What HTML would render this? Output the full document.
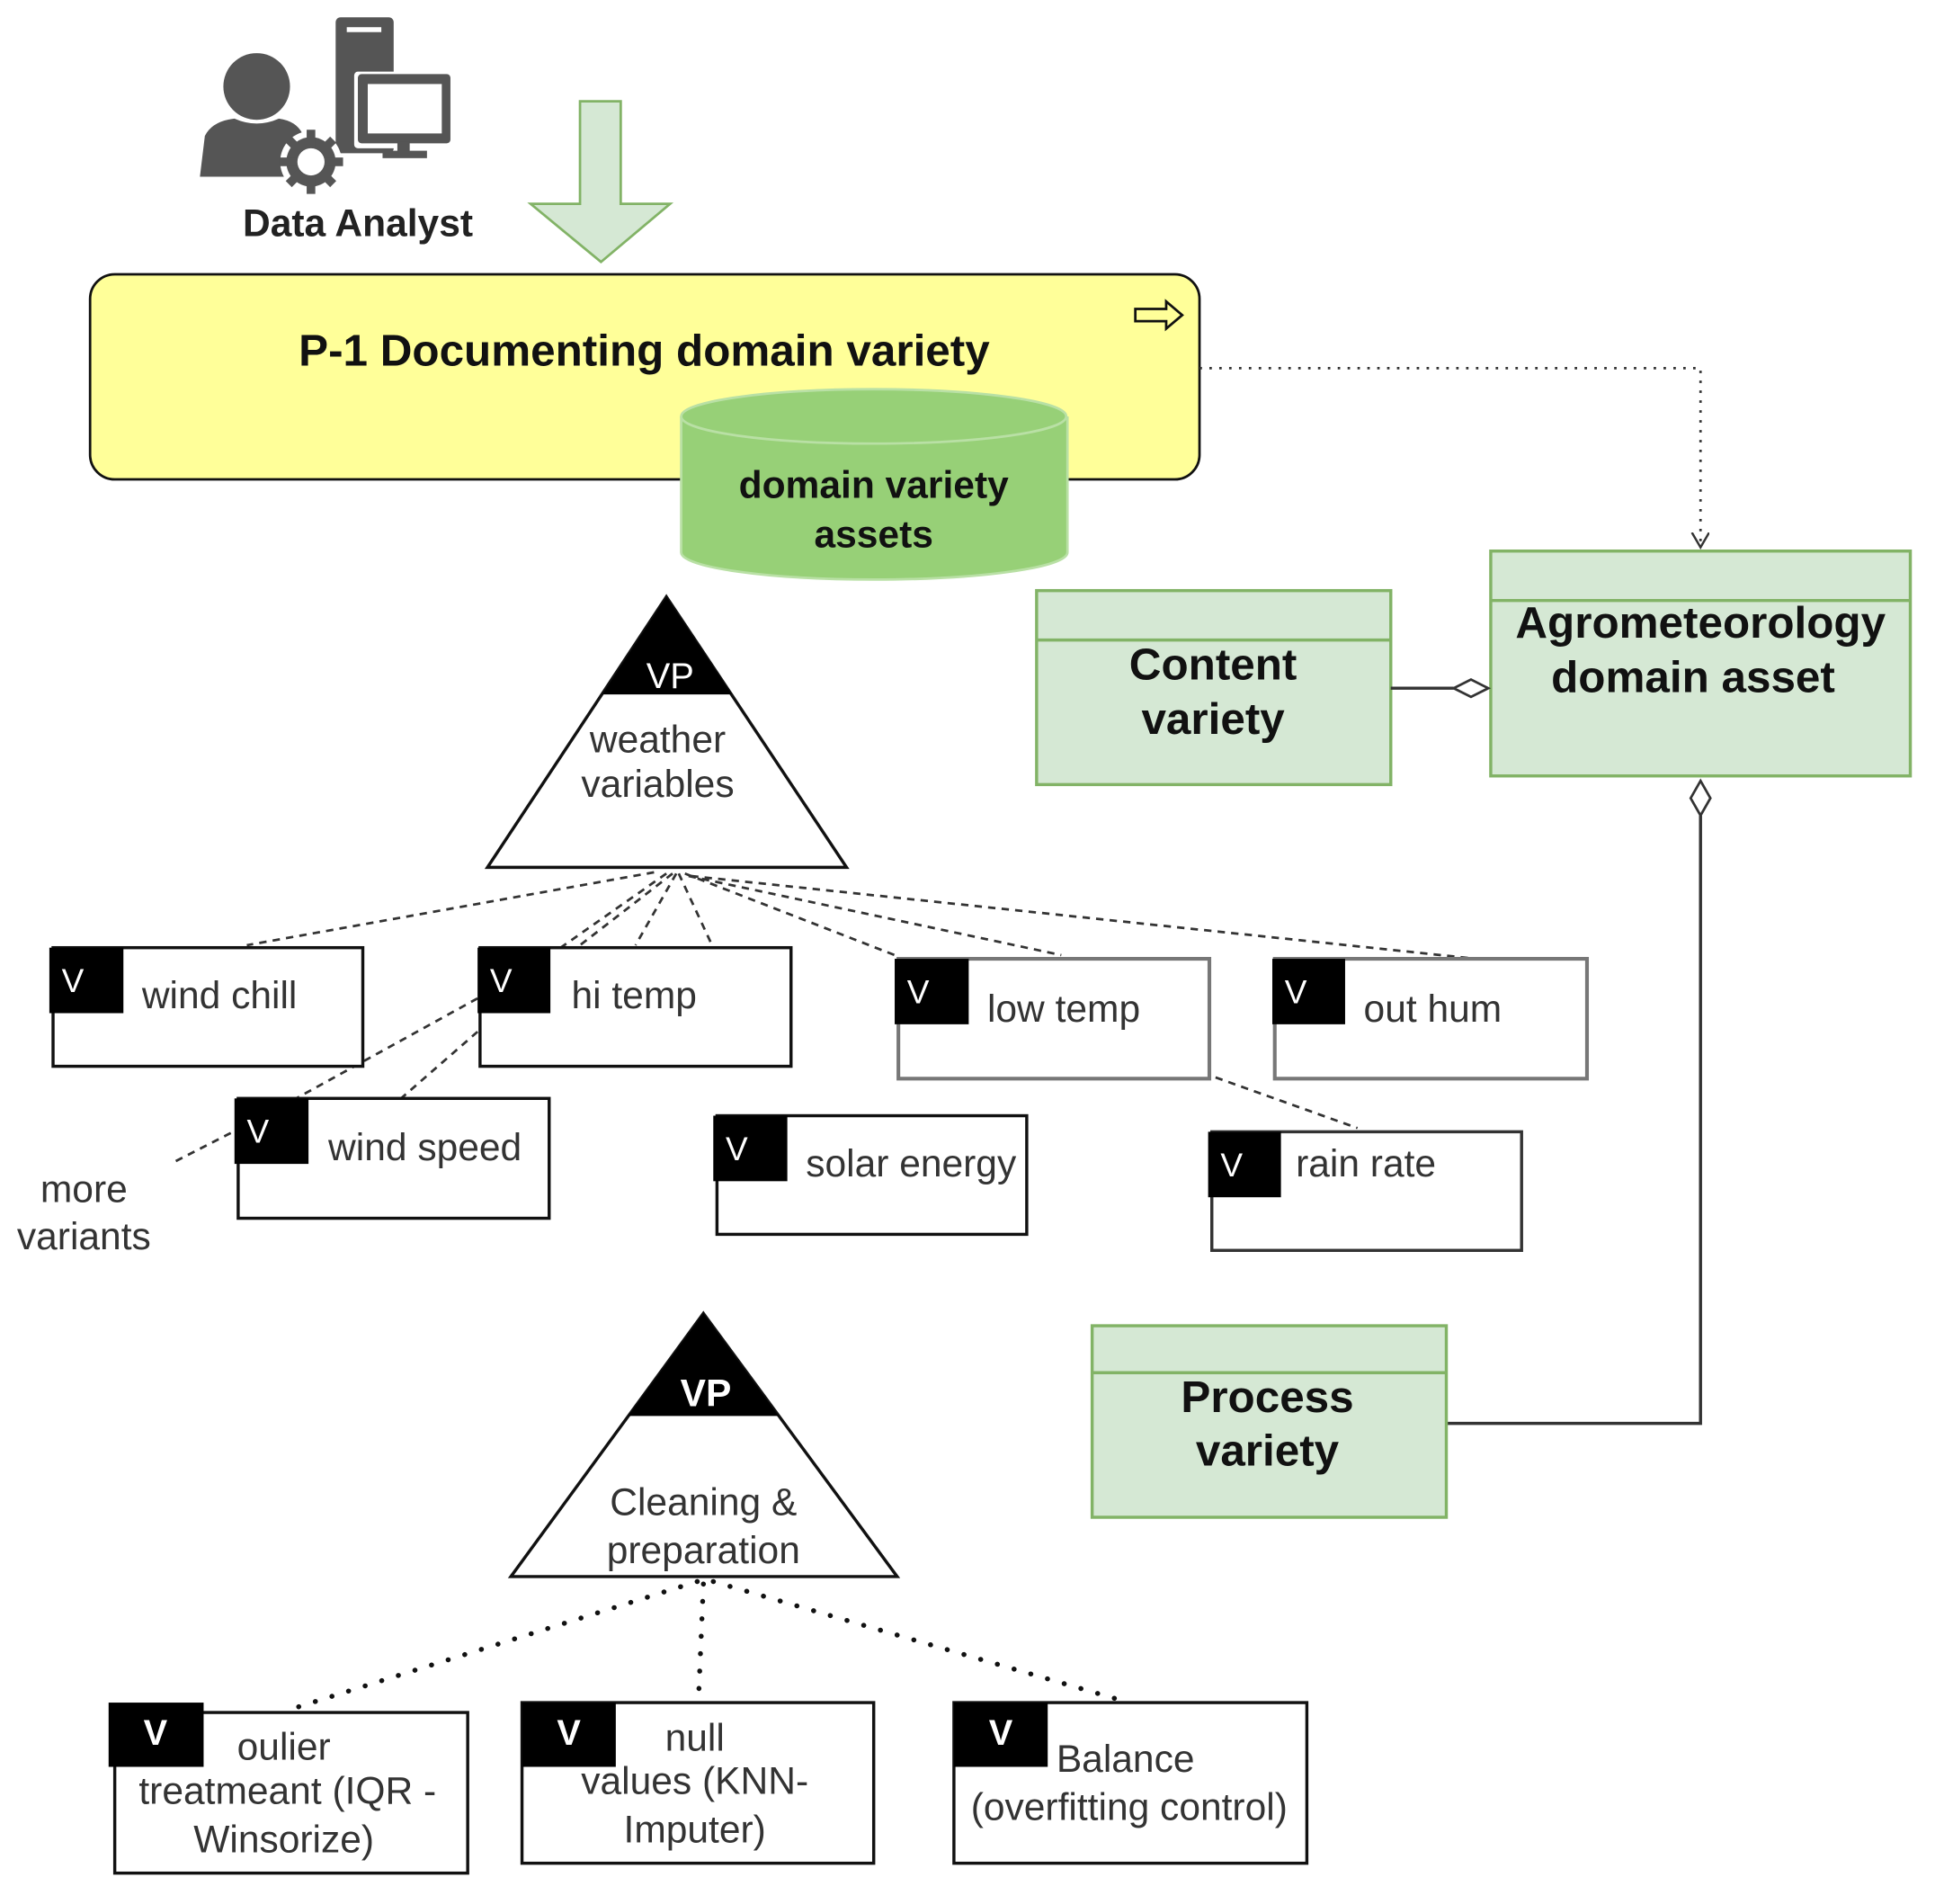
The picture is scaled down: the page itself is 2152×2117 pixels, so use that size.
<!DOCTYPE html>
<html><head><meta charset="utf-8"><style>
html,body{margin:0;padding:0;background:#fff;}
svg{display:block;}
text{font-family:"Liberation Sans",sans-serif;}
</style></head><body>
<svg width="2152" height="2117" viewBox="0 0 1568 1541" preserveAspectRatio="none" xmlns="http://www.w3.org/2000/svg">
<defs>
<marker id="openv" markerWidth="14" markerHeight="16" refX="12" refY="7" orient="auto" markerUnits="userSpaceOnUse">
<path d="M0,0 L12,7 L0,14" fill="none" stroke="#333" stroke-width="1.8"/>
</marker>
</defs>
<!-- icon -->
<g fill="#555">
<circle cx="208" cy="70" r="27"/>
<path d="M162,143 L166,110 Q172,98 190,96 Q208,104 226,96 Q240,98 245,108 L245,143 Z"/>
<rect x="272" y="14" width="47" height="110" rx="4"/>
<rect x="281" y="22" width="28" height="4" fill="#fff"/>
<rect x="287" y="58" width="80" height="62" rx="3" fill="#fff"/>
<rect x="290" y="60" width="75" height="56" rx="3"/>
<rect x="298" y="68" width="60" height="40" fill="#fff"/>
<rect x="322" y="115" width="10" height="10"/>
<rect x="310" y="122" width="36" height="6"/>
<circle cx="252" cy="131" r="25" fill="#fff"/>
<circle cx="252" cy="131" r="20"/>
<g stroke="#555" stroke-width="7">
<line x1="252" y1="105" x2="252" y2="157"/><line x1="226" y1="131" x2="278" y2="131"/>
<line x1="234" y1="113" x2="270" y2="149"/><line x1="270" y1="113" x2="234" y2="149"/>
</g>
<circle cx="252" cy="131" r="11" fill="#fff"/>
</g>
<text x="290" y="191" font-size="31" font-weight="bold" text-anchor="middle" fill="#222">Data Analyst</text>
<!-- green arrow -->
<path d="M470,82 L503,82 L503,165 L543,165 L487,212 L430,165 L470,165 Z" fill="#d5e8d4" stroke="#82b366" stroke-width="2"/>
<!-- yellow process -->
<rect x="73" y="222" width="899" height="166" rx="20" fill="#ffff99" stroke="#111" stroke-width="2"/>
<text x="522" y="296" font-size="36" font-weight="bold" text-anchor="middle" fill="#111">P-1 Documenting domain variety</text>
<path d="M920,250 L945,250 L945,244 L958,255 L945,266 L945,260 L920,260 Z" fill="none" stroke="#111" stroke-width="2"/>
<!-- cylinder -->
<path d="M552,337 L552,447 A156,22 0 0 0 865,447 L865,337" fill="#97d077" stroke="#b9e0a5" stroke-width="2"/>
<ellipse cx="708" cy="337" rx="156" ry="22" fill="#97d077" stroke="#b9e0a5" stroke-width="2"/>
<text x="708" y="403" font-size="31" font-weight="bold" text-anchor="middle" fill="#111">domain variety</text>
<text x="708" y="443" font-size="31" font-weight="bold" text-anchor="middle" fill="#111">assets</text>
<!-- dotted connector -->
<path d="M972,298 L1378,298 L1378,443" fill="none" stroke="#333" stroke-width="2" stroke-dasharray="2,6" marker-end="url(#openv)"/>
<!-- green boxes -->
<rect x="1208" y="446" width="340" height="182" fill="#d5e8d4" stroke="#82b366" stroke-width="2.5"/>
<line x1="1208" y1="486" x2="1548" y2="486" stroke="#82b366" stroke-width="2.5"/>
<text x="1378" y="516" font-size="36" font-weight="bold" text-anchor="middle" fill="#111">Agrometeorology</text>
<text x="1372" y="560" font-size="36" font-weight="bold" text-anchor="middle" fill="#111">domain asset</text>
<rect x="840" y="478" width="287" height="157" fill="#d5e8d4" stroke="#82b366" stroke-width="2.5"/>
<line x1="840" y1="518" x2="1127" y2="518" stroke="#82b366" stroke-width="2.5"/>
<text x="983" y="550" font-size="36" font-weight="bold" text-anchor="middle" fill="#111">Content</text>
<text x="983" y="594" font-size="36" font-weight="bold" text-anchor="middle" fill="#111">variety</text>
<line x1="1127" y1="557" x2="1178" y2="557" stroke="#333" stroke-width="2.5"/>
<path d="M1178,557 L1192,550 L1206,557 L1192,564 Z" fill="#fff" stroke="#333" stroke-width="2"/>
<path d="M1378,632 L1386,646 L1378,660 L1370,646 Z" fill="#fff" stroke="#333" stroke-width="2"/>
<path d="M1378,660 L1378,1152 L1172,1152" fill="none" stroke="#333" stroke-width="2.5"/>
<rect x="885" y="1073" width="287" height="155" fill="#d5e8d4" stroke="#82b366" stroke-width="2.5"/>
<line x1="885" y1="1111" x2="1172" y2="1111" stroke="#82b366" stroke-width="2.5"/>
<text x="1027" y="1143" font-size="36" font-weight="bold" text-anchor="middle" fill="#111">Process</text>
<text x="1027" y="1186" font-size="36" font-weight="bold" text-anchor="middle" fill="#111">variety</text>
<!-- triangle 1 -->
<path d="M540,483 L686,702 L395,702 Z" fill="#fff" stroke="#111" stroke-width="2.5"/>
<path d="M540,483 L593,562 L488,562 Z" fill="#000"/>
<text x="543" y="557" font-size="29" text-anchor="middle" fill="#fff">VP</text>
<text x="533" y="609" font-size="31" text-anchor="middle" fill="#333">weather</text>
<text x="533" y="645" font-size="31" text-anchor="middle" fill="#333">variables</text>
<!-- dashed lines -->
<g stroke="#333" stroke-width="2" stroke-dasharray="6,5" fill="none">
<line x1="530" y1="706" x2="200" y2="765"/>
<line x1="540" y1="707" x2="450" y2="770"/>
<line x1="545" y1="707" x2="470" y2="765"/>
<line x1="548" y1="707" x2="515" y2="765"/>
<line x1="550" y1="707" x2="577" y2="765"/>
<line x1="555" y1="707" x2="725" y2="773"/>
<line x1="558" y1="709" x2="860" y2="773"/>
<line x1="560" y1="709" x2="1215" y2="778"/>
<line x1="387" y1="808" x2="240" y2="889"/>
<line x1="187" y1="917" x2="142" y2="940"/>
<line x1="387" y1="835" x2="325" y2="889"/>
<line x1="985" y1="872" x2="1100" y2="913"/>
</g>
<!-- V boxes -->
<g font-size="31" fill="#333">
<rect x="43" y="767" width="251" height="96" fill="#fff" stroke="#111" stroke-width="2.5"/>
<rect x="40" y="767" width="60" height="53" fill="#000"/>
<text x="50" y="803" fill="#fff" font-size="27">V</text>
<text x="115" y="816">wind chill</text>
<rect x="389" y="767" width="252" height="96" fill="#fff" stroke="#111" stroke-width="2.5"/>
<rect x="387" y="767" width="59" height="53" fill="#000"/>
<text x="397" y="803" fill="#fff" font-size="27">V</text>
<text x="463" y="816">hi temp</text>
<rect x="728" y="776" width="252" height="97" fill="#fff" stroke="#777" stroke-width="3"/>
<rect x="725" y="776" width="60" height="53" fill="#000"/>
<text x="735" y="812" fill="#fff" font-size="27">V</text>
<text x="800" y="827">low temp</text>
<rect x="1033" y="776" width="253" height="97" fill="#fff" stroke="#777" stroke-width="3"/>
<rect x="1031" y="776" width="59" height="53" fill="#000"/>
<text x="1041" y="812" fill="#fff" font-size="27">V</text>
<text x="1105" y="827">out hum</text>
<rect x="193" y="889" width="252" height="97" fill="#fff" stroke="#111" stroke-width="2.5"/>
<rect x="190" y="889" width="60" height="53" fill="#000"/>
<text x="200" y="925" fill="#fff" font-size="27">V</text>
<text x="266" y="939">wind speed</text>
<rect x="581" y="903" width="251" height="96" fill="#fff" stroke="#111" stroke-width="2.5"/>
<rect x="578" y="903" width="60" height="53" fill="#000"/>
<text x="588" y="939" fill="#fff" font-size="27">V</text>
<text x="653" y="952">solar energy</text>
<rect x="982" y="916" width="251" height="96" fill="#fff" stroke="#333" stroke-width="2.5"/>
<rect x="979" y="916" width="59" height="53" fill="#000"/>
<text x="989" y="952" fill="#fff" font-size="27">V</text>
<text x="1050" y="952">rain rate</text>
<text x="68" y="973" text-anchor="middle">more</text>
<text x="68" y="1011" text-anchor="middle">variants</text>
</g>
<!-- triangle 2 -->
<path d="M570,1063 L727,1276 L414,1276 Z" fill="#fff" stroke="#111" stroke-width="2.5"/>
<path d="M570,1063 L631,1146 L509,1146 Z" fill="#000"/>
<text x="572" y="1138" font-size="31" font-weight="bold" text-anchor="middle" fill="#fff">VP</text>
<text x="570" y="1226" font-size="31" text-anchor="middle" fill="#333">Cleaning &amp;</text>
<text x="570" y="1265" font-size="31" text-anchor="middle" fill="#333">preparation</text>
<g stroke="#111" stroke-width="4" stroke-dasharray="0.1,14" stroke-linecap="round" fill="none">
<line x1="565" y1="1280" x2="240" y2="1382"/>
<line x1="570" y1="1282" x2="566" y2="1376"/>
<line x1="578" y1="1280" x2="915" y2="1378"/>
</g>
<g font-size="31" fill="#333">
<rect x="93" y="1386" width="286" height="130" fill="#fff" stroke="#111" stroke-width="2.5"/>
<rect x="88" y="1378" width="77" height="52" fill="#000"/>
<text x="126" y="1412" fill="#fff" font-size="29" font-weight="bold" text-anchor="middle">V</text>
<text x="230" y="1424" text-anchor="middle">oulier</text>
<text x="233" y="1460" text-anchor="middle">treatmeant (IQR -</text>
<text x="230" y="1499" text-anchor="middle">Winsorize)</text>
<rect x="423" y="1378" width="285" height="130" fill="#fff" stroke="#111" stroke-width="2.5"/>
<rect x="423" y="1378" width="76" height="52" fill="#000"/>
<text x="461" y="1412" fill="#fff" font-size="29" font-weight="bold" text-anchor="middle">V</text>
<text x="563" y="1417" text-anchor="middle">null</text>
<text x="563" y="1452" text-anchor="middle">values (KNN-</text>
<text x="563" y="1491" text-anchor="middle">Imputer)</text>
<rect x="773" y="1378" width="286" height="130" fill="#fff" stroke="#111" stroke-width="2.5"/>
<rect x="773" y="1378" width="76" height="52" fill="#000"/>
<text x="811" y="1412" fill="#fff" font-size="29" font-weight="bold" text-anchor="middle">V</text>
<text x="912" y="1434" text-anchor="middle">Balance</text>
<text x="915" y="1473" text-anchor="middle">(overfitting control)</text>
</g>
</svg>
</body></html>
